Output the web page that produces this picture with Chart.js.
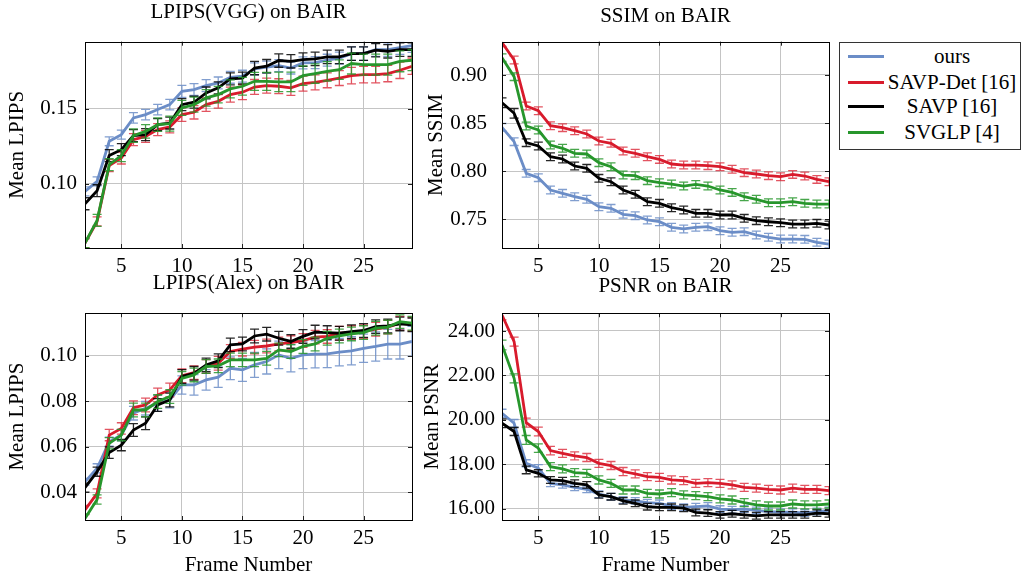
<!DOCTYPE html>
<html>
<head>
<meta charset="utf-8">
<script src="https://cdn.jsdelivr.net/npm/chart.js@4.4.1/dist/chart.umd.min.js"></script>
<style>
  html, body { margin: 0; padding: 0; background: #fff; }
  body { width: 1025px; height: 579px; position: relative; overflow: hidden; font-family: 'Liberation Serif', 'Times New Roman', serif; }
  canvas { position: absolute; }
  #legend { position: absolute; left: 839px; top: 42px; width: 182px; height: 108px; border: 1px solid #333; box-sizing: border-box; }
  .row { position: absolute; left: 0; width: 100%; height: 25px; }
  .sw { position: absolute; left: 8px; top: 11px; width: 36px; height: 3px; }
  .lt { position: absolute; left: 46px; right: 2px; top: 0; text-align: center; font-size: 21px; line-height: 25px; color: #000; }
</style>
</head>
<body>
<canvas id="c1" width="420" height="290" style="left:0;top:0;width:420px;height:290px"></canvas>
<canvas id="c2" width="415" height="290" style="left:420px;top:0;width:415px;height:290px"></canvas>
<canvas id="c3" width="420" height="309" style="left:0;top:270px;width:420px;height:309px"></canvas>
<canvas id="c4" width="415" height="309" style="left:420px;top:270px;width:415px;height:309px"></canvas>
<div id="legend"></div>
<script>
// ---------- data ----------
const frames = [2,3,4,5,6,7,8,9,10,11,12,13,14,15,16,17,18,19,20,21,22,23,24,25,26,27,28,29];
const seriesNames = ['ours', 'SAVP-Det [16]', 'SAVP [16]', 'SVGLP [4]'];

// LPIPS (VGG)
const vggOurs = [0.0949,0.1016,0.1284,0.1328,0.1440,0.1462,0.1496,0.1529,0.1618,0.1630,0.1656,0.1674,0.1712,0.1719,0.1768,0.1780,0.1790,0.1774,0.1808,0.1810,0.1826,0.1840,0.1870,0.1870,0.1897,0.1897,0.1910,0.1924];
const vggDet  = [0.0603,0.0748,0.1121,0.1172,0.1295,0.1317,0.1362,0.1380,0.1462,0.1478,0.1529,0.1551,0.1596,0.1612,0.1647,0.1656,0.1652,0.1641,0.1670,0.1678,0.1692,0.1707,0.1723,0.1730,0.1730,0.1737,0.1759,0.1786];
const vggSavp = [0.0866,0.0953,0.1188,0.1228,0.1322,0.1328,0.1395,0.1406,0.1529,0.1545,0.1607,0.1641,0.1701,0.1707,0.1774,0.1786,0.1824,0.1819,0.1830,0.1835,0.1848,0.1848,0.1870,0.1870,0.1893,0.1886,0.1897,0.1897];
const vggSvg  = [0.0603,0.0755,0.1127,0.1188,0.1322,0.1350,0.1395,0.1402,0.1507,0.1529,0.1574,0.1596,0.1634,0.1652,0.1685,0.1685,0.1681,0.1681,0.1723,0.1737,0.1752,0.1763,0.1804,0.1797,0.1797,0.1797,0.1819,0.1826];
const vggOursErr = [0.003,0.003,0.003,0.003,0.0035,0.0035,0.0035,0.0035,0.004,0.004,0.004,0.004,0.004,0.004,0.004,0.004,0.004,0.004,0.004,0.004,0.004,0.004,0.0045,0.0045,0.0045,0.0045,0.0045,0.0045];
const vggDetErr  = [0.003,0.003,0.004,0.004,0.004,0.004,0.004,0.004,0.0045,0.0045,0.0045,0.0045,0.005,0.005,0.005,0.005,0.005,0.005,0.005,0.005,0.005,0.005,0.0055,0.0055,0.0055,0.0055,0.0055,0.0055];
const vggSavpErr = [0.004,0.004,0.004,0.004,0.004,0.004,0.004,0.004,0.004,0.004,0.004,0.004,0.004,0.004,0.0045,0.0045,0.0045,0.0045,0.0045,0.0045,0.0045,0.0045,0.0045,0.0045,0.0045,0.0045,0.0045,0.0045];
const vggSvgErr  = [0.003,0.004,0.004,0.004,0.0045,0.0045,0.0045,0.005,0.005,0.005,0.0055,0.0055,0.006,0.006,0.006,0.006,0.0065,0.0065,0.0065,0.0065,0.0065,0.0065,0.007,0.007,0.007,0.007,0.007,0.007];

// SSIM
const ssimOurs = [0.8456,0.8307,0.7978,0.7933,0.7805,0.7770,0.7735,0.7708,0.7631,0.7614,0.7552,0.7538,0.7493,0.7475,0.7417,0.7400,0.7417,0.7424,0.7382,0.7365,0.7372,0.7337,0.7313,0.7295,0.7295,0.7292,0.7261,0.7243];
const ssimDet  = [0.9336,0.9156,0.8678,0.8629,0.8473,0.8453,0.8421,0.8387,0.8314,0.8290,0.8210,0.8186,0.8151,0.8123,0.8075,0.8064,0.8064,0.8058,0.8047,0.8020,0.7985,0.7971,0.7954,0.7943,0.7967,0.7950,0.7915,0.7891];
const ssimSavp = [0.8712,0.8602,0.8297,0.8262,0.8151,0.8127,0.8054,0.8030,0.7926,0.7891,0.7805,0.7760,0.7683,0.7666,0.7621,0.7597,0.7562,0.7562,0.7545,0.7545,0.7510,0.7486,0.7475,0.7465,0.7451,0.7451,0.7458,0.7441];
const ssimSvg  = [0.9180,0.8983,0.8470,0.8428,0.8272,0.8238,0.8186,0.8179,0.8089,0.8047,0.7960,0.7954,0.7902,0.7881,0.7867,0.7846,0.7863,0.7846,0.7805,0.7780,0.7735,0.7708,0.7673,0.7673,0.7683,0.7666,0.7659,0.7659];
const ssimOursErr = [0.004,0.004,0.004,0.004,0.004,0.004,0.004,0.004,0.004,0.004,0.004,0.004,0.004,0.004,0.004,0.004,0.004,0.004,0.004,0.004,0.004,0.004,0.004,0.004,0.004,0.004,0.004,0.004];
const ssimDetErr  = [0.004,0.004,0.004,0.004,0.004,0.004,0.004,0.004,0.004,0.004,0.004,0.004,0.004,0.004,0.004,0.004,0.004,0.004,0.004,0.004,0.004,0.004,0.004,0.004,0.004,0.004,0.004,0.004];
const ssimSavpErr = [0.005,0.005,0.004,0.004,0.004,0.004,0.004,0.004,0.004,0.004,0.004,0.004,0.004,0.004,0.004,0.004,0.004,0.004,0.004,0.004,0.004,0.004,0.004,0.004,0.004,0.004,0.004,0.004];
const ssimSvgErr  = [0.004,0.004,0.004,0.004,0.004,0.004,0.004,0.004,0.004,0.004,0.004,0.004,0.004,0.004,0.004,0.004,0.004,0.004,0.004,0.004,0.004,0.004,0.004,0.004,0.004,0.004,0.004,0.004];

// LPIPS (Alex)
const alexOurs = [0.0446,0.0505,0.0622,0.0651,0.0747,0.0769,0.0790,0.0805,0.0871,0.0871,0.0893,0.0905,0.0944,0.0937,0.0959,0.0974,0.1003,0.0988,0.1003,0.1006,0.1007,0.1015,0.1021,0.1032,0.1040,0.1050,0.1050,0.1062];
const alexDet  = [0.0322,0.0395,0.0651,0.0680,0.0771,0.0783,0.0827,0.0849,0.0911,0.0925,0.0952,0.0966,0.1018,0.1028,0.1037,0.1042,0.1051,0.1057,0.1066,0.1081,0.1084,0.1098,0.1101,0.1105,0.1116,0.1125,0.1142,0.1139];
const alexSavp = [0.0420,0.0490,0.0574,0.0607,0.0673,0.0703,0.0783,0.0805,0.0908,0.0922,0.0959,0.0977,0.1047,0.1051,0.1086,0.1094,0.1076,0.1062,0.1084,0.1103,0.1101,0.1098,0.1105,0.1110,0.1127,0.1130,0.1139,0.1135];
const alexSvg  = [0.0285,0.0368,0.0615,0.0651,0.0761,0.0761,0.0798,0.0820,0.0900,0.0915,0.0952,0.0955,0.0981,0.0981,0.0981,0.0988,0.1025,0.1018,0.1040,0.1051,0.1076,0.1086,0.1095,0.1101,0.1120,0.1125,0.1149,0.1142];
const alexOursErr = [0.0015,0.002,0.002,0.0025,0.003,0.003,0.0035,0.0035,0.004,0.0045,0.0045,0.0045,0.005,0.005,0.0055,0.0055,0.006,0.006,0.006,0.006,0.006,0.006,0.0062,0.0062,0.0064,0.0065,0.0065,0.0066];
const alexDetErr  = [0.002,0.002,0.0025,0.0025,0.003,0.003,0.003,0.003,0.003,0.003,0.003,0.003,0.003,0.003,0.003,0.003,0.003,0.003,0.003,0.003,0.003,0.003,0.003,0.003,0.003,0.003,0.003,0.003];
const alexSavpErr = [0.002,0.002,0.0025,0.0025,0.0028,0.0028,0.0028,0.003,0.003,0.003,0.003,0.003,0.003,0.003,0.003,0.003,0.003,0.003,0.003,0.003,0.003,0.003,0.003,0.003,0.003,0.003,0.003,0.003];
const alexSvgErr  = [0.002,0.002,0.0025,0.0025,0.003,0.003,0.003,0.003,0.003,0.003,0.003,0.003,0.003,0.003,0.003,0.003,0.003,0.003,0.003,0.003,0.003,0.003,0.003,0.003,0.003,0.003,0.003,0.003];

// PSNR
const psnrOurs = [20.30,19.85,18.05,17.83,17.15,17.08,16.97,16.88,16.66,16.55,16.40,16.36,16.28,16.25,16.13,16.07,16.10,16.13,15.99,15.96,15.99,15.93,15.88,15.85,15.85,15.81,15.88,15.93];
const psnrDet  = [24.72,23.52,19.88,19.48,18.62,18.50,18.38,18.31,18.05,17.95,17.68,17.57,17.45,17.42,17.30,17.27,17.15,17.18,17.15,17.08,16.97,16.93,16.88,16.85,16.93,16.88,16.88,16.82];
const psnrSavp = [19.85,19.48,17.75,17.60,17.30,17.27,17.15,17.08,16.63,16.55,16.36,16.25,16.10,16.07,16.07,16.03,15.84,15.81,15.73,15.78,15.73,15.69,15.73,15.73,15.73,15.73,15.81,15.78];
const psnrSvg  = [23.37,21.87,19.10,18.73,17.90,17.80,17.63,17.60,17.30,17.15,16.85,16.85,16.70,16.67,16.73,16.63,16.60,16.55,16.45,16.40,16.28,16.18,16.13,16.13,16.22,16.18,16.18,16.22];
const psnrOursErr = [0.18,0.17,0.16,0.16,0.15,0.15,0.15,0.15,0.15,0.15,0.15,0.15,0.15,0.15,0.15,0.15,0.15,0.15,0.15,0.15,0.15,0.15,0.15,0.15,0.15,0.15,0.15,0.15];
const psnrDetErr  = [0.22,0.2,0.2,0.2,0.19,0.18,0.18,0.18,0.18,0.18,0.18,0.18,0.18,0.18,0.18,0.18,0.18,0.18,0.18,0.18,0.18,0.18,0.18,0.18,0.18,0.18,0.18,0.18];
const psnrSavpErr = [0.2,0.18,0.17,0.16,0.15,0.15,0.15,0.15,0.15,0.15,0.15,0.15,0.15,0.15,0.15,0.15,0.15,0.15,0.15,0.15,0.15,0.15,0.15,0.15,0.15,0.15,0.15,0.15];
const psnrSvgErr  = [0.22,0.2,0.2,0.19,0.18,0.18,0.18,0.18,0.18,0.18,0.18,0.18,0.18,0.18,0.18,0.18,0.18,0.18,0.18,0.18,0.18,0.18,0.18,0.18,0.18,0.18,0.18,0.18];

// tick labels
const xTicks = [5, 10, 15, 20, 25];
const vggTicks  = [0.10, 0.15];
const ssimTicks = [0.75, 0.80, 0.85, 0.90];
const alexTicks = [0.04, 0.06, 0.08, 0.10];
const psnrTicks = [16, 18, 20, 22, 24];

// ---------- styles ----------
const colors    = ['#6b8dc7', '#d81b2c', '#000000', '#27962c'];
const errColors = ['rgba(107,141,199,0.85)', 'rgba(216,27,44,0.75)', 'rgba(0,0,0,0.85)', 'rgba(39,150,44,0.85)'];
const FONT = "'Liberation Serif', 'Times New Roman', serif";

// error bars + frame plugin
const errorBars = {
  id: 'errorBars',
  afterDatasetDraw(chart, args) {
    const ds = chart.data.datasets[args.index];
    if (!ds.errors) return;
    const { ctx, chartArea, scales: { x, y } } = chart;
    ctx.save();
    ctx.beginPath();
    ctx.rect(chartArea.left, chartArea.top, chartArea.width, chartArea.height);
    ctx.clip();
    ctx.strokeStyle = ds.errColor;
    ctx.lineWidth = 1.3;
    ds.data.forEach((p, i) => {
      const e = ds.errors[i];
      const px = x.getPixelForValue(p.x);
      const y1 = y.getPixelForValue(p.y - e);
      const y2 = y.getPixelForValue(p.y + e);
      ctx.beginPath();
      ctx.moveTo(px, y1); ctx.lineTo(px, y2);
      ctx.moveTo(px - 4.5, y1); ctx.lineTo(px + 4.5, y1);
      ctx.moveTo(px - 4.5, y2); ctx.lineTo(px + 4.5, y2);
      ctx.stroke();
    });
    ctx.restore();
  },
  afterDatasetsDraw(chart) {
    const { ctx, chartArea: a, scales: { x, y } } = chart;
    ctx.save();
    ctx.strokeStyle = '#222';
    ctx.lineWidth = 1;
    ctx.beginPath();
    x.ticks.forEach(t => {
      const px = Math.round(x.getPixelForValue(t.value)) + 0.5;
      ctx.moveTo(px, a.bottom); ctx.lineTo(px, a.bottom - 4);
      ctx.moveTo(px, a.top); ctx.lineTo(px, a.top + 4);
    });
    y.ticks.forEach(t => {
      const py = Math.round(y.getPixelForValue(t.value)) + 0.5;
      ctx.moveTo(a.left, py); ctx.lineTo(a.left + 4, py);
      ctx.moveTo(a.right, py); ctx.lineTo(a.right - 4, py);
    });
    ctx.stroke();
    ctx.strokeStyle = '#000';
    ctx.strokeRect(Math.round(a.left) + 0.5, Math.round(a.top) + 0.5, Math.round(a.width), Math.round(a.height));
    ctx.restore();
  }
};

function makeChart(id, cfg) {
  const series = cfg.series;
  const datasets = series.map((vals, k) => ({
    label: seriesNames[k],
    data: frames.map((f, i) => ({ x: f, y: vals[i] })),
    errors: cfg.errors[k],
    errColor: errColors[k],
    borderColor: colors[k],
    backgroundColor: colors[k],
    borderWidth: 2.8,
    pointRadius: 0,
    tension: 0,
    order: 4 - k,
    clip: 0
  }));
  return new Chart(document.getElementById(id), {
    type: 'line',
    data: { datasets },
    plugins: [errorBars],
    options: {
      responsive: false,
      animation: false,
      events: [],
      layout: { padding: { left: 0, right: cfg.padRight, top: 0, bottom: 0 } },
      plugins: {
        legend: { display: false },
        tooltip: { enabled: false },
        title: {
          display: true, text: cfg.title, color: '#000', fullSize: false, align: 'center',
          font: { family: FONT, size: 21, weight: 'normal' },
          padding: { top: cfg.titleTop, bottom: cfg.titleBottom }
        }
      },
      scales: {
        x: {
          type: 'linear', min: 2, max: 29,
          afterBuildTicks: s => { s.ticks = xTicks.map(v => ({ value: v })); },
          afterFit: s => { s.height = cfg.xHeight; },
          grid: { color: '#c4c4c4', lineWidth: 1, drawTicks: false },
          border: { display: false },
          ticks: { color: '#000', font: { family: FONT, size: 21 }, padding: 6, maxRotation: 0 },
          title: { display: !!cfg.xTitle, text: cfg.xTitle || '', color: '#000', font: { family: FONT, size: 21 }, padding: { top: 0, bottom: 1 } }
        },
        y: {
          type: 'linear', min: cfg.yMin, max: cfg.yMax,
          afterBuildTicks: s => { s.ticks = cfg.yTicks.map(v => ({ value: v })); },
          afterFit: s => { s.width = cfg.yWidth; },
          grid: { color: '#c4c4c4', lineWidth: 1, drawTicks: false },
          border: { display: false },
          ticks: { color: '#000', font: { family: FONT, size: 21 }, padding: cfg.yPad, callback: v => v.toFixed(2) },
          title: { display: true, text: cfg.yTitle, color: '#000', font: { family: FONT, size: 21 }, padding: { top: cfg.yTitlePad, bottom: 0 } }
        }
      }
    }
  });
}

makeChart('c1', {
  title: 'LPIPS(VGG) on BAIR', titleTop: 0, titleBottom: 16.5,
  series: [vggOurs, vggDet, vggSavp, vggSvg], errors: [vggOursErr, vggDetErr, vggSavpErr, vggSvgErr],
  yMin: 0.057, yMax: 0.195, yTicks: vggTicks, yTitle: 'Mean LPIPS', yTitlePad: 5,
  yWidth: 85, yPad: 8, xHeight: 42, padRight: 8
});
makeChart('c2', {
  title: 'SSIM on BAIR', titleTop: 4, titleBottom: 12.5,
  series: [ssimOurs, ssimDet, ssimSavp, ssimSvg], errors: [ssimOursErr, ssimDetErr, ssimSavpErr, ssimSvgErr],
  yMin: 0.7202, yMax: 0.9346, yTicks: ssimTicks, yTitle: 'Mean SSIM', yTitlePad: 4,
  yWidth: 82, yPad: 15, xHeight: 42, padRight: 6
});
makeChart('c3', {
  title: 'LPIPS(Alex) on BAIR', titleTop: 1, titleBottom: 17,
  series: [alexOurs, alexDet, alexSavp, alexSvg], errors: [alexOursErr, alexDetErr, alexSavpErr, alexSvgErr],
  yMin: 0.0278, yMax: 0.1186, yTicks: alexTicks, yTitle: 'Mean LPIPS', yTitlePad: 5, xTitle: 'Frame Number',
  yWidth: 85, yPad: 8, xHeight: 59, padRight: 8
});
makeChart('c4', {
  title: 'PSNR on BAIR', titleTop: 4, titleBottom: 14,
  series: [psnrOurs, psnrDet, psnrSavp, psnrSvg], errors: [psnrOursErr, psnrDetErr, psnrSavpErr, psnrSvgErr],
  yMin: 15.5, yMax: 24.8, yTicks: psnrTicks, yTitle: 'Mean PSNR', yTitlePad: 0, xTitle: 'Frame Number',
  yWidth: 82, yPad: 7, xHeight: 59, padRight: 6
});

// legend (real text)
const legend = document.getElementById('legend');
seriesNames.forEach((name, k) => {
  const row = document.createElement('div');
  row.className = 'row';
  row.style.top = [1, 27, 51, 77][k] + 'px';
  const sw = document.createElement('div');
  sw.className = 'sw';
  sw.style.background = colors[k];
  const lt = document.createElement('div');
  lt.className = 'lt';
  lt.textContent = name;
  row.appendChild(sw); row.appendChild(lt);
  legend.appendChild(row);
});
</script>
</body>
</html>
